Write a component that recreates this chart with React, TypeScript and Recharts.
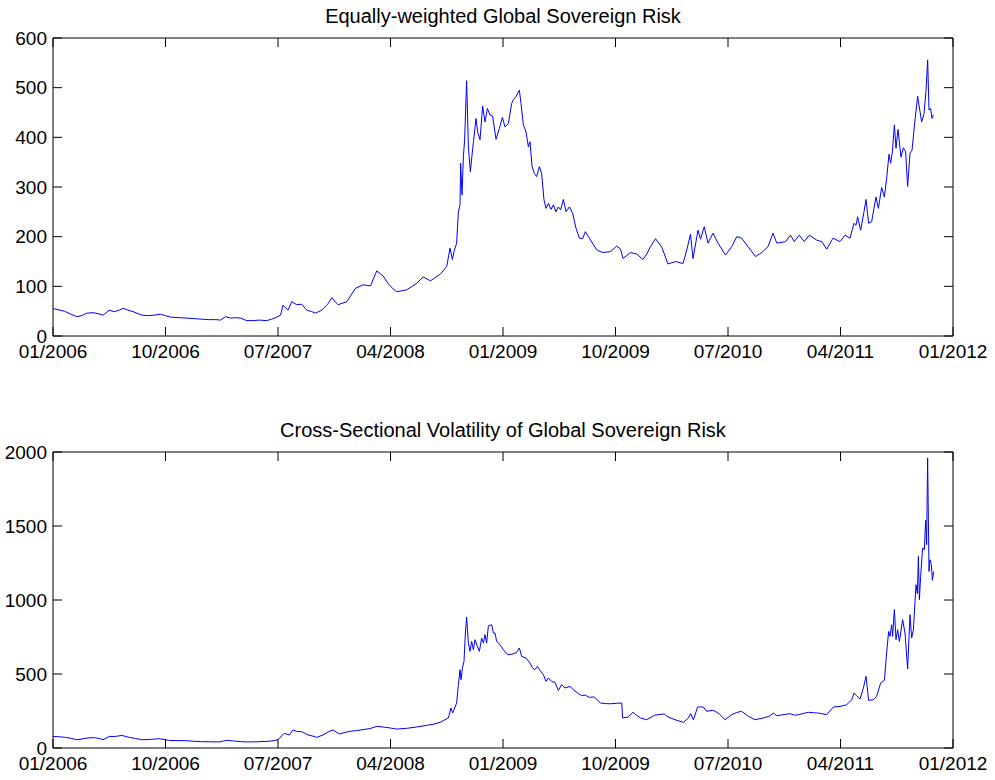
import { LineChart, Line, XAxis, YAxis, ReferenceLine } from "recharts";

// x positions are months since 01/2006
const xTicks = [0, 9, 18, 27, 36, 45, 54, 63, 72];
const xTickLabels = ["01/2006", "10/2006", "07/2007", "04/2008", "01/2009", "10/2009", "07/2010", "04/2011", "01/2012"];

const riskTicks = [0, 100, 200, 300, 400, 500, 600];
const volTicks = [0, 500, 1000, 1500, 2000];

const riskMonths = [
  0.0, 0.4, 0.9, 1.5, 1.9, 2.3, 2.7, 3.2, 3.6, 4.0, 4.5, 4.9, 5.3, 5.6, 6.0, 6.4, 6.8, 7.1, 7.6, 8.1,
  8.6, 9.0, 9.4, 10.0, 10.7, 11.3, 11.8, 12.5, 13.0, 13.4, 13.8, 14.2, 14.6, 15.0, 15.5, 16.0, 16.5, 17.1, 17.5, 17.9,
  18.2, 18.4, 18.8, 19.1, 19.5, 19.9, 20.3, 20.7, 21.0, 21.5, 22.0, 22.3, 22.8, 23.5, 24.2, 24.8, 25.4, 25.9, 26.4, 26.8,
  27.2, 27.5, 28.3, 29.1, 29.6, 30.2, 31.0, 31.5, 31.76, 31.95, 32.08, 32.29, 32.43, 32.56, 32.61, 32.72, 32.83, 32.93, 33.09, 33.23,
  33.39, 33.52, 33.68, 33.84, 33.97, 34.16, 34.37, 34.56, 34.75, 34.96, 35.17, 35.44, 35.71, 35.95, 36.16, 36.43, 36.69, 36.83, 37.04, 37.31,
  37.44, 37.63, 37.84, 38.03, 38.16, 38.32, 38.51, 38.69, 38.91, 39.09, 39.28, 39.44, 39.63, 39.84, 40.03, 40.24, 40.43, 40.61, 40.83, 41.04,
  41.31, 41.57, 41.84, 42.11, 42.37, 42.59, 42.91, 43.5, 44.0, 44.6, 45.1, 45.4, 45.6, 46.2, 46.7, 47.2, 47.5, 47.8, 48.2, 48.7,
  49.2, 49.8, 50.4, 50.7, 51.0, 51.2, 51.6, 51.8, 52.1, 52.4, 52.8, 53.2, 53.8, 54.3, 54.7, 55.1, 55.6, 56.2, 56.7, 57.2,
  57.6, 57.9, 58.6, 59.0, 59.3, 59.7, 60.1, 60.5, 61.1, 61.5, 61.9, 62.4, 62.96, 63.36, 63.76, 64.08, 64.24, 64.37, 64.61, 64.88,
  65.04, 65.25, 65.49, 65.84, 66.03, 66.29, 66.51, 66.69, 66.88, 67.01, 67.15, 67.31, 67.44, 67.6, 67.84, 68.03, 68.21, 68.37, 68.56, 68.72,
  68.96, 69.17, 69.36, 69.49, 69.68, 69.84, 69.97, 70.08, 70.21, 70.32, 70.43,
];
const riskValues = [
  55, 53, 50, 43, 39, 41, 46, 47, 45, 42, 52, 49, 52, 56, 52, 49, 45, 42, 41, 42,
  44, 41, 38, 37, 36, 35, 34, 33, 33, 32, 39, 36, 37, 36, 31, 31, 32, 31, 34, 38,
  42, 62, 52, 69, 63, 64, 52, 49, 46, 52, 65, 77, 63, 69, 96, 103, 101, 131, 121, 106,
  95, 89, 93, 106, 119, 111, 125, 140, 177, 154, 170, 187, 250, 264, 348, 284, 361, 395, 514, 381,
  331, 364, 401, 438, 411, 395, 463, 431, 458, 445, 443, 396, 418, 440, 421, 428, 468, 476, 482, 495,
  468, 425, 411, 381, 391, 342, 327, 321, 341, 327, 274, 257, 267, 255, 264, 250, 260, 254, 275, 250,
  260, 247, 217, 197, 196, 210, 197, 173, 168, 170, 181, 175, 156, 168, 165, 154, 165, 180, 196, 179,
  145, 150, 146, 173, 205, 156, 213, 195, 220, 187, 207, 187, 163, 180, 200, 197, 180, 160, 168, 180,
  207, 187, 190, 203, 190, 203, 190, 203, 193, 190, 175, 197, 190, 203, 197, 227, 223, 240, 213, 250,
  275, 227, 230, 280, 257, 299, 280, 317, 366, 348, 371, 425, 378, 416, 360, 379, 371, 301, 368, 374,
  435, 483, 452, 431, 448, 494, 556, 455, 458, 438, 445,
];

const volMonths = [
  0.0, 0.5, 1.0, 1.5, 1.9, 2.4, 2.8, 3.3, 3.7, 4.0, 4.5, 5.0, 5.5, 6.1, 6.6, 7.1, 7.8, 8.5, 9.3, 10.0,
  10.7, 11.3, 11.8, 12.6, 13.3, 13.9, 14.5, 15.0, 15.5, 16.3, 17.2, 17.7, 18.0, 18.5, 18.9, 19.2, 19.5, 19.9, 20.4, 20.8,
  21.1, 21.6, 22.0, 22.4, 22.9, 23.7, 24.3, 24.8, 25.4, 25.9, 26.4, 27.0, 27.5, 28.3, 29.1, 29.9, 30.4, 30.96, 31.63, 31.84,
  31.97, 32.29, 32.43, 32.56, 32.64, 32.75, 32.88, 32.99, 33.09, 33.23, 33.36, 33.49, 33.63, 33.76, 33.95, 34.11, 34.29, 34.43, 34.56, 34.69,
  34.83, 35.09, 35.23, 35.36, 35.49, 35.76, 36.03, 36.37, 36.69, 37.04, 37.31, 37.49, 37.84, 38.16, 38.37, 38.56, 38.75, 38.96, 39.23, 39.44,
  39.63, 39.89, 40.16, 40.43, 40.69, 40.96, 41.36, 41.63, 42.03, 42.29, 42.56, 42.91, 43.3, 43.8, 44.2, 44.6, 45.1, 45.5, 45.57, 46.0,
  46.4, 46.7, 47.0, 47.5, 48.1, 48.5, 48.9, 49.2, 49.76, 50.43, 50.83, 51.01, 51.23, 51.57, 52.03, 52.29, 52.83, 53.3, 53.76, 54.29,
  54.7, 55.09, 55.63, 56.16, 56.83, 57.3, 57.63, 57.89, 58.4, 58.96, 59.3, 59.63, 60.1, 60.43, 60.9, 61.23, 61.89, 62.43, 62.96, 63.49,
  63.89, 64.08, 64.29, 64.56, 64.83, 65.04, 65.25, 65.63, 65.89, 66.21, 66.51, 66.69, 66.85, 66.96, 67.09, 67.17, 67.31, 67.44, 67.57, 67.71,
  67.97, 68.16, 68.37, 68.56, 68.69, 68.83, 69.04, 69.15, 69.23, 69.31, 69.41, 69.57, 69.71, 69.81, 69.89, 69.97, 70.08, 70.16, 70.27, 70.35,
  70.45,
];
const volValues = [
  78, 76, 72, 64, 56, 62, 68, 70, 64, 56, 78, 78, 85, 72, 64, 56, 58, 63, 51, 50,
  49, 45, 43, 42, 41, 52, 47, 43, 41, 42, 45, 50, 56, 99, 88, 122, 112, 110, 88, 80,
  72, 88, 108, 122, 95, 112, 118, 124, 132, 146, 142, 135, 128, 133, 142, 153, 160, 173, 203, 270,
  236, 304, 428, 529, 461, 540, 585, 777, 885, 709, 653, 720, 664, 732, 687, 653, 743, 709, 766, 709,
  826, 833, 777, 777, 720, 698, 664, 630, 634, 642, 676, 619, 608, 574, 540, 529, 551, 524, 495, 450,
  473, 450, 443, 389, 428, 405, 416, 394, 367, 353, 358, 342, 345, 304, 300, 299, 302, 304, 203, 209,
  241, 220, 203, 191, 221, 226, 230, 210, 191, 173, 203, 232, 191, 277, 277, 248, 255, 230, 191, 225,
  240, 248, 214, 191, 203, 215, 236, 218, 225, 232, 222, 225, 235, 241, 238, 236, 225, 277, 281, 292,
  326, 372, 353, 331, 405, 484, 322, 326, 349, 439, 457, 642, 788, 754, 833, 754, 935, 732, 799, 720,
  867, 777, 534, 901, 743, 799, 1103, 1043, 1295, 1002, 1160, 1351, 1340, 1538, 1374, 1960, 1193, 1272, 1239, 1133,
  1193,
];

const riskData = riskMonths.map((m, i) => ({ m, v: riskValues[i] }));
const volData = volMonths.map((m, i) => ({ m, v: volValues[i] }));

const FONT = "'Liberation Sans', Arial, Helvetica, sans-serif";
const PLOT_LEFT = 53;
const PLOT_W = 900;
const TICK_LEN = 9;

// bottom tick label plus inward tick marks at bottom and top of the box
function XTick({ x, payload, plotTop, plotBottom }) {
  const label = xTickLabels[xTicks.indexOf(payload.value)];
  return (
    <g>
      <line x1={x} x2={x} y1={plotBottom} y2={plotBottom - TICK_LEN} stroke='#000' />
      <line x1={x} x2={x} y1={plotTop} y2={plotTop + TICK_LEN} stroke='#000' />
      <text x={x} y={plotBottom + 9} dy='0.71em' textAnchor='middle' fontSize={19} fontFamily={FONT} fill='#000'>
        {label}
      </text>
    </g>
  );
}

// left tick label plus inward tick marks at left and right of the box
function YTick({ y, payload }) {
  const right = PLOT_LEFT + PLOT_W;
  return (
    <g>
      <line x1={PLOT_LEFT} x2={PLOT_LEFT + TICK_LEN} y1={y} y2={y} stroke='#000' />
      <line x1={right} x2={right - TICK_LEN} y1={y} y2={y} stroke='#000' />
      <text x={PLOT_LEFT - 6} y={y} dy='0.355em' textAnchor='end' fontSize={19} fontFamily={FONT} fill='#000'>
        {payload.value}
      </text>
    </g>
  );
}

function Panel({ data, yTicks, yMax, top, height, marginTop, xHeight }) {
  const plotBottom = height - xHeight;
  return (
    <div style={{ position: "absolute", left: 0, top }}>
      <LineChart width={995} height={height} data={data} margin={{ top: marginTop, right: 42, bottom: 0, left: 0 }}>
        <XAxis
          dataKey='m'
          type='number'
          domain={[0, 72]}
          ticks={xTicks}
          interval={0}
          height={xHeight}
          axisLine={{ stroke: "#000" }}
          tickLine={false}
          tick={(p) => <XTick {...p} plotTop={marginTop} plotBottom={plotBottom} />}
        />
        <YAxis
          type='number'
          domain={[0, yMax]}
          ticks={yTicks}
          interval={0}
          width={PLOT_LEFT}
          axisLine={{ stroke: "#000" }}
          tickLine={false}
          tick={(p) => <YTick {...p} />}
        />
        <ReferenceLine y={yMax} stroke='#000' strokeWidth={1} />
        <ReferenceLine x={72} stroke='#000' strokeWidth={1} />
        <Line
          type='linear'
          dataKey='v'
          stroke='#0000ff'
          strokeWidth={1}
          dot={false}
          isAnimationActive={false}
        />
      </LineChart>
    </div>
  );
}

const titleStyle = {
  position: "absolute",
  left: 53,
  width: 900,
  textAlign: "center",
  fontFamily: FONT,
  fontSize: 20,
  lineHeight: "20px",
  color: "#000",
} as const;

export default function App() {
  return (
    <div style={{ position: "absolute", left: 0, top: 0, width: 995, height: 780, background: "#fff" }}>
      <Panel data={riskData} yTicks={riskTicks} yMax={600} top={0} height={390} marginTop={38} xHeight={54} />
      <Panel data={volData} yTicks={volTicks} yMax={2000} top={410} height={370} marginTop={42} xHeight={32} />
      <div style={{ ...titleStyle, top: 6 }}>Equally-weighted Global Sovereign Risk</div>
      <div style={{ ...titleStyle, top: 420 }}>Cross-Sectional Volatility of Global Sovereign Risk</div>
    </div>
  );
}
